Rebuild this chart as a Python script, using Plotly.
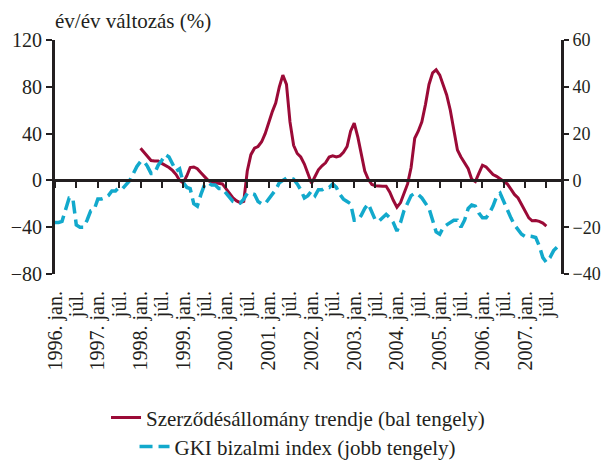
import plotly.graph_objects as go
import pandas as pd

# ---------------- data ----------------
start_month = "1996-01-01"
n_months = 142
trend_start_index = 24  # 1998 jan

# GKI bizalmi index (right axis), monthly 1996 jan .. 2007 okt
gki = [
    -18, -18, -17.5, -12, -7.5, -7.5, -19, -20, -20, -17, -13, -12.5,   # 1996
    -8, -8, -7.5, -6.5, -4.5, -4.5, -3, -3.5, -1.5, 0, 3, 6,            # 1997
    8, 8, 6, 3, 3, 6.5, 8.5, 11, 10, 7, 4, 5,                           # 1998
    -1, -3, -3.5, -10, -11, -6, -2, -1, -2, -2, -3.5, -3.5,             # 1999
    -5.5, -7, -9, -9.5, -9.7, -8, -5.5, -5.5, -6, -9, -10, -10,         # 2000
    -8, -6, -4, -1, 0, 1, 1, 0.5, -1.5, -4, -7.5, -6.5,                 # 2001
    -4.5, -6.5, -4, -4, -3, -3, -1.5, -3, -6, -8, -9, -10,              # 2002
    -17, -17, -15, -12, -10, -14, -17, -17.4, -16, -14.5, -16, -18,     # 2003
    -21.6, -18, -13, -10, -6.5, -5.5, -6, -7.5, -10, -12, -17, -22,     # 2004
    -23, -20, -19, -18, -17, -17, -20, -17, -12, -10.5, -11, -14,       # 2005
    -16, -16, -14, -11, -7, -5.5, -9, -13, -16, -19, -21, -23,          # 2006
    -24, -23.8, -24, -24.4, -28, -33, -35, -33, -30, -28.5,             # 2007
]

# Szerződésállomány trendje (left axis), monthly 1998 jan .. 2007 júl
trend = [
    27.5, 24, 20, 17, 16.5, 16.5, 14.5, 13, 11, 8.5, 5, 0,              # 1998
    -2, 4, 11, 11.5, 10, 6.5, 3.5, 0, -1.5, -2, -2.5, -3,               # 1999
    -7, -11, -15, -17.5, -19, -18, 8, 22, 27.5, 29, 33, 40,             # 2000
    50, 59, 66, 80, 90, 82, 50, 30, 23, 20, 14, 6,                      # 2001
    -2.5, 3.5, 9, 12.5, 15, 20, 21, 20, 21, 24, 29, 42,                 # 2002
    49, 37, 22, 8, 1, -3.5, -4.5, -5, -5, -5, -10, -17,                 # 2003
    -23, -19, -12, -3, 11, 36, 42, 50, 65, 82, 92, 94.5,                # 2004
    90, 82, 73, 60, 42, 26, 20, 15, 10, 1, -1, 6,                       # 2005
    13, 11.5, 8, 5, 3.5, 1.5, -1, -3, -7.5, -12, -15, -21,              # 2006
    -27, -32, -34.5, -34.3, -35, -36.5, -39,                            # 2007
]

jan_text = "jan."
jul_text = "júl."
last_label_month = "2007-07-01"

left_ticks = [-80, -40, 0, 40, 80, 120]
right_ticks = [-40, -20, 0, 20, 40, 60]

name_trend = "Szerződésállomány trendje (bal tengely)"
name_gki = "GKI bizalmi index (jobb tengely)"
axis_title = "év/év változás (%)"

# ---------------- styling / layout ----------------
OFF = 8                      # page body margin of the browser
W, H = 609 - OFF, 461 - OFF
PLOT_L, PLOT_R, PLOT_T, PLOT_B = 54.5 - OFF, 561.5 - OFF, 39.5 - OFF, 274.5 - OFF
ML, MR, MT, MB = PLOT_L, W - PLOT_R, PLOT_T, H - PLOT_B
paper_w = W - ML - MR
plot_h = H - MT - MB

INK = "#231f20"
RED = "#9b0a37"
CYAN = "#12a9cc"
FONT = "Liberation Serif"

months = pd.date_range(start_month, periods=n_months, freq="MS")
trend_months = months[trend_start_index:trend_start_index + len(trend)]

# category labels every half year
label_dates = pd.date_range(start_month, last_label_month, freq="6MS")
label_text = [f"{d.year}. {jan_text}" if d.month == 1 else jul_text
              for d in label_dates]

fig = go.Figure()
fig.add_trace(go.Scatter(
    x=trend_months, y=trend, name=name_trend, mode="lines",
    line=dict(color=RED, width=3), legend="legend", yaxis="y", xaxis="x"))
fig.add_trace(go.Scatter(
    x=months, y=gki, name=name_gki, mode="lines",
    line=dict(color=CYAN, width=3.5, dash="13px,6px"),
    legend="legend2", yaxis="y2", xaxis="x"))
# carrier for the zero-line axis
fig.add_trace(go.Scatter(x=[months[0]], y=[None], xaxis="x2", yaxis="y",
                         showlegend=False, hoverinfo="skip"))

ymin, ymax = left_ticks[0], left_ticks[-1]
zero_pos = (0 - ymin) / (ymax - ymin)
x_range = [months[0], "2007-11-03"]
legend_x = (298 - OFF - ML) / paper_w

tick_font = dict(family=FONT, size=20, color=INK)
rtick_font = dict(family=FONT, size=18, color=INK)
label_font = dict(family=FONT, size=20, color=INK)
legend_font = dict(family=FONT, size=21, color=INK)

fig.update_layout(
    width=W, height=H,
    margin=dict(l=ML, r=MR, t=MT, b=MB, autoexpand=False),
    paper_bgcolor="white", plot_bgcolor="rgba(0,0,0,0)",
    xaxis=dict(
        domain=[0, 1], anchor="y", side="bottom",
        type="date", range=x_range,
        tickmode="array", tickvals=label_dates, ticktext=label_text,
        tickangle=-90, ticks="outside", ticklen=8,
        tickcolor="rgba(0,0,0,0)",
        showline=False, showgrid=False, zeroline=False,
        tickfont=label_font,
    ),
    xaxis2=dict(
        overlaying="x", anchor="free", position=zero_pos,
        type="date", range=x_range,
        showline=True, linecolor=INK, linewidth=3,
        ticks="outside", ticklen=6, tickwidth=2, tickcolor=INK,
        tick0=start_month, dtick="M6",
        showticklabels=False, showgrid=False, zeroline=False,
    ),
    yaxis=dict(
        domain=[0, 1], range=[ymin, ymax], anchor="x",
        tickmode="array", tickvals=left_ticks,
        showline=True, linecolor=INK, linewidth=3,
        ticks="outside", ticklen=6, tickwidth=2, tickcolor=INK,
        showgrid=False, zeroline=False,
        tickfont=tick_font,
    ),
    yaxis2=dict(
        overlaying="y", side="right", anchor="x",
        range=[right_ticks[0], right_ticks[-1]],
        tickmode="array", tickvals=right_ticks,
        showline=True, linecolor=INK, linewidth=3,
        ticks="outside", ticklen=5, tickwidth=2, tickcolor=INK,
        showgrid=False, zeroline=False,
        tickfont=rtick_font,
    ),
    legend=dict(
        x=legend_x, xanchor="center",
        y=-(419 - 274.5) / plot_h, yanchor="middle",
        bgcolor="rgba(0,0,0,0)", itemwidth=30,
        font=legend_font,
    ),
    legend2=dict(
        x=legend_x, xanchor="center",
        y=-(448 - 274.5) / plot_h, yanchor="middle",
        bgcolor="rgba(0,0,0,0)", itemwidth=30,
        font=legend_font,
    ),
    annotations=[dict(
        text=axis_title, xref="paper", yref="paper",
        x=-2 / paper_w, y=1 + (39.5 - 20) / plot_h,
        xanchor="left", yanchor="middle",
        showarrow=False,
        font=dict(family=FONT, size=21, color=INK),
    )],
    showlegend=True,
)

fig.write_html("out.html")
